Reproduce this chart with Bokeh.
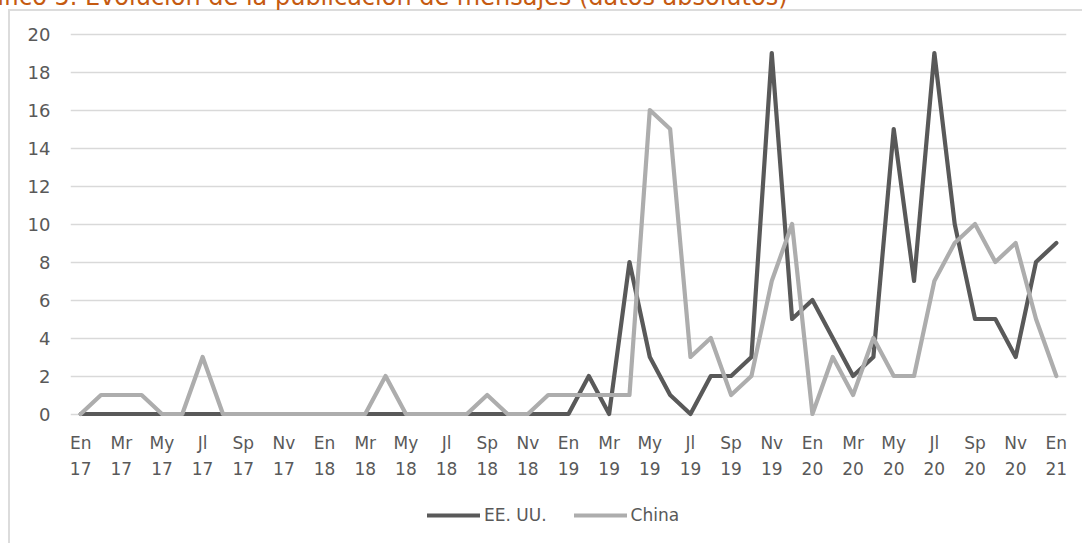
from bokeh.plotting import figure
from bokeh.layouts import column
from bokeh.models import (FixedTicker, LinearAxis, Legend, LegendItem, Label,
                          Range1d)
from bokeh.embed import file_html
from bokeh.resources import INLINE

# ---------------- data ----------------
month_labels = ["En", "Mr", "My", "Jl", "Sp", "Nv",
                "En", "Mr", "My", "Jl", "Sp", "Nv",
                "En", "Mr", "My", "Jl", "Sp", "Nv",
                "En", "Mr", "My", "Jl", "Sp", "Nv",
                "En"]
year_labels = ["17", "17", "17", "17", "17", "17",
               "18", "18", "18", "18", "18", "18",
               "19", "19", "19", "19", "19", "19",
               "20", "20", "20", "20", "20", "20",
               "21"]

# monthly values, Jan 2017 .. Jan 2021
us = [0, 0, 0, 0, 0, 0, 0, 0, 0, 0, 0, 0,
      0, 0, 0, 0, 0, 0, 0, 0, 0, 0, 0, 0,
      0, 2, 0, 8, 3, 1, 0, 2, 2, 3, 19, 5,
      6, 4, 2, 3, 15, 7, 19, 10, 5, 5, 3, 8,
      9]
china = [0, 1, 1, 1, 0, 0, 3, 0, 0, 0, 0, 0,
         0, 0, 0, 2, 0, 0, 0, 0, 1, 0, 0, 1,
         1, 1, 1, 1, 16, 15, 3, 4, 1, 2, 7, 10,
         0, 3, 1, 4, 2, 2, 7, 9, 10, 8, 9, 5,
         2]
series_names = ["EE. UU.", "China"]
series_colors = ["#595959", "#adadad"]
title_text = "Gráfico 5. Evolución de la publicación de mensajes (datos absolutos)"
y_ticks = [0, 2, 4, 6, 8, 10, 12, 14, 16, 18, 20]

x = list(range(len(us)))
x_ticks = list(range(0, len(us), 2))
series = [us, china]

# ---------------- layout ----------------
W, H = 1082, 543
H_CHART = 490                                 # chart part, legend strip below
FL, FR, FT, FB = 70, 1066, 30, 423            # frame box in page pixels
PX_PER_UNIT = 19.0
XR = (-0.5, len(us) - 0.5)
YR = (-9.5 / PX_PER_UNIT, 20 + (33.5 - FT) / PX_PER_UNIT)


def px2x(px):
    return XR[0] + (px - FL) * (XR[1] - XR[0]) / (FR - FL)


def py2y(py):
    return YR[1] - (py - FT) * (YR[1] - YR[0]) / (FB - FT)


FONT = "DejaVu Sans"
TXT = "#595959"
FRAME_GRAY = "#dcdcdc"
LW = 4.2

p = figure(frame_width=FR - FL, frame_height=FB - FT,
           output_backend="svg", toolbar_location=None,
           x_range=Range1d(*XR), y_range=Range1d(*YR),
           x_axis_type=None,
           min_border_left=FL, min_border_right=W - FR,
           min_border_top=FT, min_border_bottom=H_CHART - FB)
p.outline_line_color = None
p.background_fill_color = "white"
p.border_fill_color = None
# thin light frame of the chart area (left and top edges)
p.styles = {
    "background-color": "white",
    "background-image": f"linear-gradient({FRAME_GRAY}, {FRAME_GRAY}), "
                        f"linear-gradient({FRAME_GRAY}, {FRAME_GRAY})",
    "background-size": "2px 100%, 100% 2px",
    "background-position": "8px 9px, 8px 9px",
    "background-repeat": "no-repeat",
}

# y axis
ya = p.yaxis[0]
ya.ticker = FixedTicker(ticks=y_ticks)
ya.axis_line_color = None
ya.major_tick_line_color = None
ya.minor_tick_line_color = None
ya.major_label_standoff = 14
ya.major_label_text_font = FONT
ya.major_label_text_font_size = "18px"
ya.major_label_text_color = TXT
p.ygrid.grid_line_color = "#d9d9d9"
p.ygrid.grid_line_width = 1.4


# two-line x labels as two stacked axes
def make_xaxis(labels, standoff):
    return LinearAxis(ticker=FixedTicker(ticks=x_ticks),
                      major_label_overrides={t: l for t, l in zip(x_ticks, labels)},
                      axis_line_color=None, major_tick_line_color=None,
                      minor_tick_line_color=None, major_label_standoff=standoff,
                      major_label_text_font=FONT, major_label_text_font_size="17px",
                      major_label_text_color=TXT)


p.add_layout(make_xaxis(month_labels, 3), "below")
p.add_layout(make_xaxis(year_labels, 0), "below")

# lines
for s, c in zip(series, series_colors):
    p.line(x, s, line_color=c, line_width=LW, line_join="round", line_cap="round")

# cropped title at the very top
p.add_layout(Label(x=px2x(787), y=py2y(-4), text=title_text,
                   text_align="right", text_baseline="alphabetic",
                   text_font=FONT, text_font_size="24px",
                   text_color="#C55A11"), "above")

# ---------------- legend strip ----------------
LEG_H = H - H_CHART
pl = figure(width=W, height=LEG_H, output_backend="svg", toolbar_location=None,
            x_axis_type=None, y_axis_type=None, min_border=0,
            x_range=Range1d(-3, -2), y_range=Range1d(0, 1))   # series out of view
pl.outline_line_color = None
pl.background_fill_color = None
pl.border_fill_color = None
pl.grid.visible = False
pl.styles = {
    "background-color": "white",
    "background-image": f"linear-gradient({FRAME_GRAY}, {FRAME_GRAY})",
    "background-size": "2px 100%",
    "background-position": "8px 0px",
    "background-repeat": "no-repeat",
}
keys = [pl.line(x, s, line_color=c, line_width=LW, line_cap="round")
        for s, c in zip(series, series_colors)]
legend = Legend(items=[LegendItem(label=n, renderers=[r])
                       for n, r in zip(series_names, keys)],
                orientation="horizontal", location=(427 - FL, LEG_H - 25 - 10),
                glyph_width=53, glyph_height=20, label_standoff=4, spacing=27,
                padding=0, margin=0, border_line_color=None,
                background_fill_alpha=0,
                label_text_font=FONT, label_text_font_size="17px",
                label_text_color=TXT)
pl.add_layout(legend, "center")

page = column(p, pl, spacing=0)
open("out.html", "w").write(file_html(page, INLINE))
